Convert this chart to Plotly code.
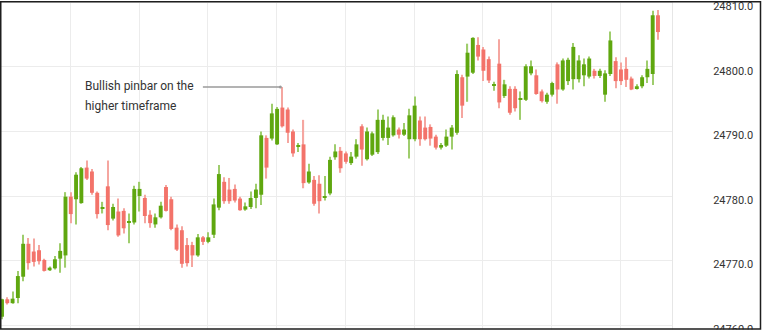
import plotly.graph_objects as go

# ---------------- data ----------------
opens = [24761.3, 24764.0, 24763.4, 24764.2, 24767.5, 24772.6, 24771.4, 24771.6, 24770.1, 24768.5,
         24768.8, 24770.3, 24770.8, 24779.9, 24779.5, 24778.9, 24784.4, 24783.8, 24780.5, 24778.1,
         24781.5, 24776.5, 24777.6, 24777.7, 24775.9, 24775.9, 24780.0, 24779.7, 24777.1, 24775.6,
         24776.7, 24781.4, 24779.5, 24775.1, 24774.7, 24772.4, 24772.4, 24770.8, 24773.6, 24772.9,
         24774.0, 24778.2, 24782.2, 24781.0, 24781.1, 24779.6, 24777.9, 24778.3, 24779.7, 24780.2,
         24789.0, 24788.9, 24788.0, 24793.7, 24793.4, 24790.0, 24787.6, 24788.0, 24782.1, 24782.5,
         24781.9, 24779.8, 24780.4, 24786.0, 24787.0, 24786.6, 24785.1, 24786.1, 24790.8, 24785.7,
         24786.4, 24786.8, 24789.0, 24789.0, 24789.4, 24790.3, 24789.5, 24788.8, 24788.8, 24791.7,
         24790.6, 24790.7, 24789.2, 24787.5, 24787.8, 24789.2, 24789.8, 24798.4, 24798.5, 24799.1,
         24803.4, 24802.7, 24801.2, 24797.1, 24800.5, 24795.5, 24796.6, 24796.6, 24794.9, 24794.9,
         24799.0, 24798.7, 24796.2, 24794.6, 24795.7, 24800.4, 24796.5, 24797.8, 24798.1, 24798.1,
         24798.7, 24798.5, 24799.4, 24798.6, 24795.7, 24798.9, 24800.9, 24799.6, 24799.7, 24798.2,
         24796.7, 24797.0, 24798.4, 24798.9, 24808.0]
highs = [24764.1, 24764.3, 24765.2, 24768.4, 24774.0, 24773.5, 24773.4, 24772.4, 24770.3, 24769.1,
         24770.7, 24772.7, 24780.6, 24780.6, 24783.7, 24784.5, 24785.5, 24784.2, 24780.7, 24779.1,
         24785.5, 24778.8, 24779.6, 24778.1, 24777.3, 24781.6, 24782.2, 24780.2, 24777.8, 24777.3,
         24779.1, 24781.7, 24779.9, 24775.6, 24775.3, 24773.5, 24772.9, 24774.1, 24773.8, 24774.4,
         24779.6, 24784.8, 24782.9, 24782.8, 24781.8, 24779.9, 24779.0, 24780.7, 24781.9, 24790.0,
         24789.4, 24794.3, 24793.8, 24796.9, 24793.7, 24790.3, 24788.2, 24791.8, 24785.0, 24783.1,
         24783.2, 24783.1, 24786.1, 24788.0, 24787.6, 24786.9, 24786.8, 24788.8, 24791.1, 24790.6,
         24790.0, 24793.4, 24792.6, 24792.3, 24792.5, 24790.6, 24791.3, 24793.5, 24795.4, 24792.3,
         24792.3, 24791.1, 24789.5, 24788.2, 24790.3, 24791.0, 24799.5, 24798.8, 24803.6, 24804.6,
         24804.6, 24803.1, 24801.6, 24797.7, 24804.3, 24798.0, 24797.0, 24797.0, 24796.2, 24800.4,
         24801.0, 24799.6, 24796.5, 24796.0, 24797.7, 24800.7, 24801.3, 24801.4, 24803.7, 24801.8,
         24801.3, 24801.6, 24799.7, 24799.7, 24799.5, 24805.5, 24801.5, 24800.7, 24801.5, 24798.5,
         24797.3, 24798.7, 24801.0, 24808.7, 24808.8]
lows = [24760.9, 24763.2, 24763.3, 24763.4, 24766.8, 24768.6, 24769.1, 24769.4, 24768.3, 24768.4,
        24768.6, 24768.1, 24768.9, 24775.8, 24775.6, 24778.8, 24782.5, 24780.2, 24776.5, 24777.3,
        24774.7, 24776.2, 24773.7, 24774.2, 24772.7, 24775.6, 24777.6, 24775.8, 24775.1, 24775.1,
        24776.5, 24777.6, 24774.7, 24771.5, 24768.9, 24769.1, 24769.0, 24770.6, 24772.4, 24772.7,
        24773.5, 24777.8, 24778.8, 24778.8, 24779.0, 24777.7, 24777.7, 24778.0, 24778.1, 24778.6,
        24782.7, 24788.6, 24787.9, 24790.6, 24788.2, 24786.1, 24786.8, 24781.2, 24781.9, 24778.5,
        24777.3, 24779.3, 24780.1, 24785.6, 24783.6, 24785.0, 24784.8, 24785.8, 24784.7, 24785.5,
        24786.2, 24786.5, 24788.6, 24787.9, 24789.2, 24788.9, 24789.3, 24785.8, 24788.5, 24787.8,
        24788.6, 24787.8, 24787.2, 24787.2, 24787.6, 24787.2, 24789.5, 24792.1, 24794.6, 24798.9,
        24801.0, 24797.8, 24797.5, 24796.3, 24793.6, 24795.2, 24792.6, 24793.1, 24791.8, 24794.7,
        24798.7, 24795.7, 24794.5, 24794.3, 24795.4, 24794.3, 24796.3, 24797.2, 24796.5, 24797.6,
        24797.0, 24798.2, 24798.2, 24798.3, 24794.6, 24798.6, 24796.7, 24797.2, 24796.9, 24796.4,
        24796.5, 24796.7, 24797.5, 24797.2, 24804.2]
closes = [24764.0, 24763.4, 24764.1, 24767.6, 24772.6, 24769.6, 24769.8, 24769.9, 24768.4, 24768.9,
          24770.2, 24771.5, 24779.9, 24777.2, 24783.3, 24784.3, 24782.7, 24780.5, 24777.2, 24778.3,
          24775.5, 24778.3, 24773.9, 24775.0, 24776.1, 24781.1, 24781.1, 24776.9, 24775.8, 24776.7,
          24778.5, 24777.7, 24774.9, 24771.7, 24769.5, 24769.6, 24770.8, 24773.6, 24772.9, 24773.6,
          24778.7, 24783.4, 24779.2, 24779.2, 24779.3, 24777.8, 24778.4, 24779.7, 24781.0, 24789.4,
          24784.4, 24792.8, 24793.5, 24790.8, 24789.8, 24786.6, 24787.8, 24782.0, 24783.8, 24778.8,
          24779.2, 24780.0, 24785.6, 24786.9, 24784.3, 24785.3, 24786.1, 24788.0, 24787.2, 24790.0,
          24789.7, 24791.8, 24791.8, 24790.6, 24792.2, 24789.5, 24790.3, 24792.5, 24794.0, 24788.8,
          24788.8, 24788.9, 24787.5, 24787.9, 24789.2, 24790.6, 24798.9, 24794.0, 24802.2, 24804.5,
          24801.6, 24799.4, 24797.9, 24797.3, 24794.5, 24797.3, 24792.9, 24793.6, 24795.1, 24800.1,
          24800.1, 24795.8, 24794.7, 24795.7, 24797.5, 24796.5, 24801.0, 24801.1, 24803.1, 24801.0,
          24800.4, 24801.3, 24798.6, 24799.4, 24799.0, 24804.1, 24797.8, 24797.8, 24798.0, 24796.5,
          24797.0, 24798.4, 24799.7, 24808.0, 24805.4]

y_ticks = [24760, 24770, 24780, 24790, 24800, 24810]
pinbar_index = 53
note_lines = ["Bullish pinbar on the", "higher timeframe"]

# ---------------- styling ----------------
GREEN, RED = "#5fa70f", "#f3736a"
GREEN_W, RED_W = "#9fcd6d", "#f5a6a0"

idx = list(range(len(opens)))
up = [c >= o for o, c in zip(opens, closes)]
body_base = [min(o, c) for o, c in zip(opens, closes)]
body_h = [abs(c - o) for o, c in zip(opens, closes)]
wick_h = [h - l for h, l in zip(highs, lows)]

fig = go.Figure()
fig.add_trace(go.Bar(x=idx, y=wick_h, base=lows, width=0.22,
                     marker=dict(color=[GREEN_W if u else RED_W for u in up], line=dict(width=0)),
                     hoverinfo="skip"))
fig.add_trace(go.Bar(x=idx, y=body_h, base=body_base, width=0.74,
                     marker=dict(color=[GREEN if u else RED for u in up], line=dict(width=0)),
                     customdata=list(zip(opens, highs, lows, closes)),
                     hovertemplate="O %{customdata[0]}<br>H %{customdata[1]}<br>L %{customdata[2]}<br>C %{customdata[3]}<extra></extra>"))

W, H = 762, 336
ML, MR, MT, MB = 1, 90, 0, 2
PW, PH = W - ML - MR, H - MT - MB


def px_x(px):
    return (px - ML) / PW


def px_y(py):
    return (H - MB - py) / PH


fig.update_layout(
    width=W, height=H,
    margin=dict(l=ML, r=MR, t=MT, b=MB),
    paper_bgcolor="white", plot_bgcolor="white",
    showlegend=False, barmode="overlay",
    font=dict(family="Roboto, Arial, sans-serif", color="#333333"),
    xaxis=dict(range=[-0.19, 126.65], showticklabels=False, ticks="",
               tick0=12.9, dtick=13, showgrid=True, gridcolor="#ececec", gridwidth=1,
               zeroline=False, showline=False, fixedrange=True),
    yaxis=dict(range=[24759.09, 24810.21], side="right", tickmode="array",
               tickvals=y_ticks, tickformat=".1f", ticks="",
               tickfont=dict(size=11, color="#333333"),
               ticklabelstandoff=38, ticklabelshift=4, ticklabeloverflow="allow",
               showgrid=True, gridcolor="#ececec", gridwidth=1,
               zeroline=False, showline=True, linecolor="#e6e6e6", linewidth=1,
               fixedrange=True),
    shapes=[
        dict(type="rect", xref="paper", yref="paper", layer="above",
             x0=px_x(-5), x1=px_x(W + 5), y0=px_y(H + 5), y1=px_y(332.6),
             fillcolor="white", line=dict(width=0)),
        dict(type="rect", xref="paper", yref="paper", layer="above",
             x0=px_x(0.75), x1=px_x(760.5), y0=px_y(332), y1=px_y(0.75),
             line=dict(color="#1e1e1e", width=1.5)),
    ],
    annotations=[
        dict(x=pinbar_index, y=highs[pinbar_index], xref="x", yref="y", text="",
             showarrow=True, ax=-79, ay=0, xshift=-2, arrowhead=6, arrowsize=0.5,
             arrowwidth=1.5, arrowcolor="#9a9a9a"),
        dict(x=px_x(83), y=px_y(86.5), xref="paper", yref="paper", text=note_lines[0],
             showarrow=False, xanchor="left", yanchor="middle",
             font=dict(size=12, color="#333333")),
        dict(x=px_x(83), y=px_y(106.5), xref="paper", yref="paper", text=note_lines[1],
             showarrow=False, xanchor="left", yanchor="middle",
             font=dict(size=12, color="#333333")),
    ],
)

fig.write_html("out.html", config={"displayModeBar": False})
